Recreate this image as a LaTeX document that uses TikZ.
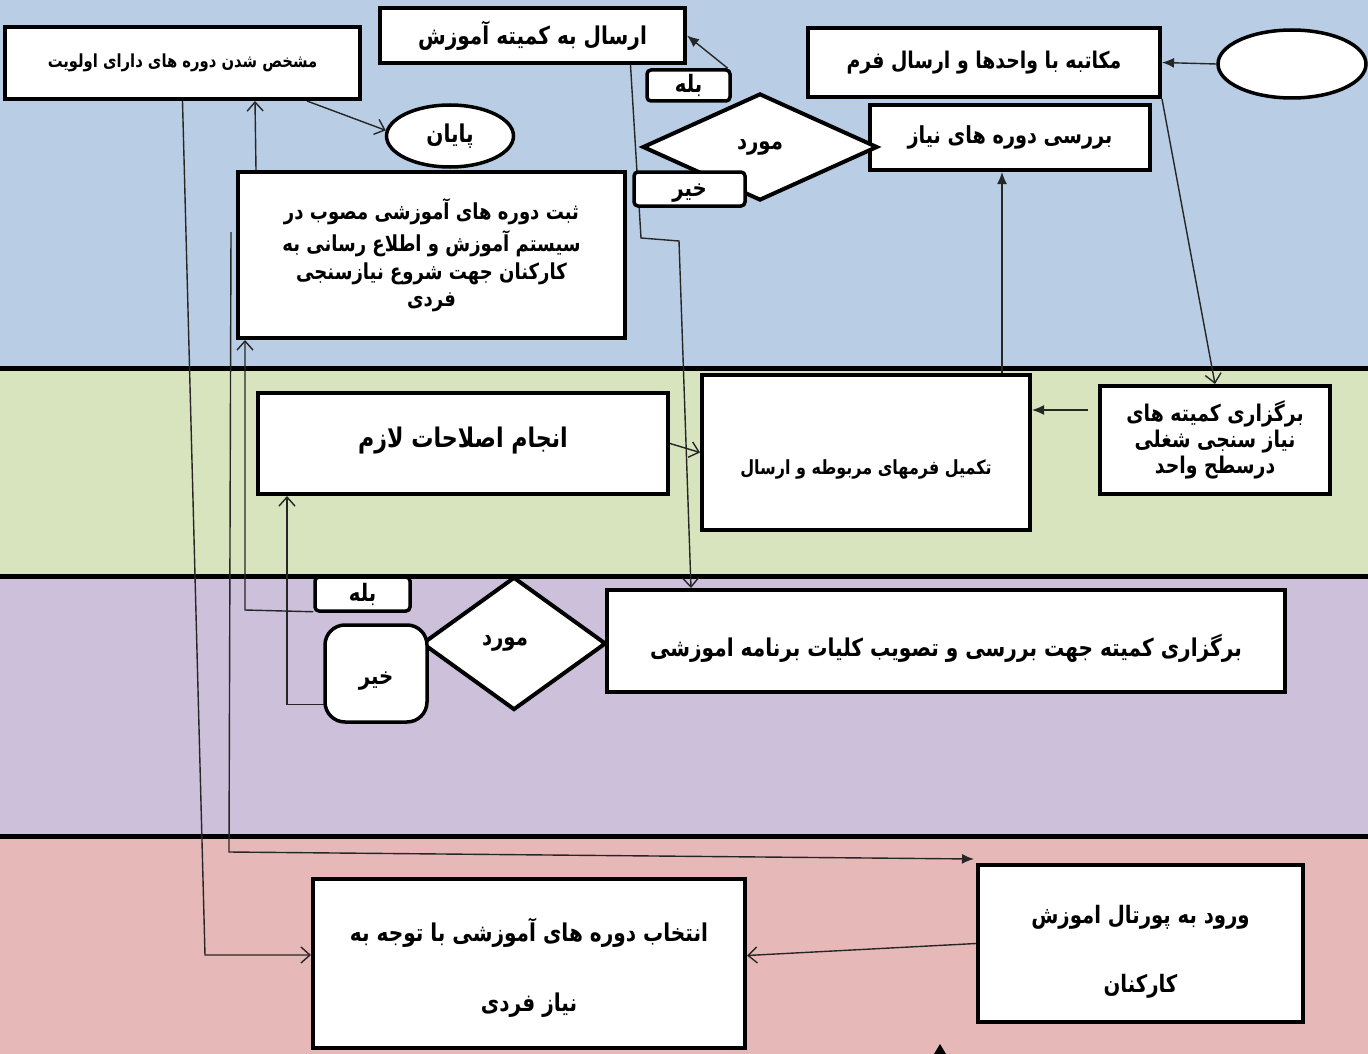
\documentclass[tikz,border=0pt]{standalone}
\usepackage{fontspec}
\setmainfont{DejaVu Sans}
\newfontfamily\arabicfont[Script=Arabic,FakeStretch=0.82]{DejaVu Sans Bold}
\TeXXeTstate=1
\usetikzlibrary{shapes.geometric,arrows.meta,calc}
\newcommand\fatext[1]{\beginR #1\endR}
\newcommand\fsz[1]{\fontsize{#1}{#1}\selectfont}
\newcommand\lowered[2]{\raisebox{#1}[0pt][0pt]{#2}}
\definecolor{laneblue}{HTML}{B9CDE5}
\definecolor{lanegreen}{HTML}{D7E4BD}
\definecolor{lanepurple}{HTML}{CCC0DA}
\definecolor{lanepink}{HTML}{E6B9B8}
\pgfdeclarelayer{lanes}
\pgfdeclarelayer{conns}
\pgfsetlayers{lanes,conns,main}
\begin{document}
\begin{tikzpicture}[x=1pt,y=-1pt,
  box/.style={draw, line width=4pt, fill=white, inner sep=0pt, align=center, font=\arabicfont},
  lbl/.style={draw, line width=3.5pt, fill=white, inner sep=0pt, rounded corners=4pt, font=\arabicfont\fsz{24}},
  decision/.style={draw, diamond, line width=4pt, fill=white, inner sep=0pt, font=\arabicfont\fsz{24}},
  oval/.style={draw, ellipse, line width=3.5pt, fill=white, inner sep=0pt, font=\arabicfont},
  conn/.style={line width=1.4pt, draw=black!85},
  oarrow/.style={conn, -{Straight Barb[length=9pt,width=16pt,line width=1.4pt]}},
  farrow/.style={conn, -{Latex[length=12pt,width=10pt]}},
  laneline/.style={line width=5pt}
]
\useasboundingbox (0,0) rectangle (1368,1054);
\begin{pgfonlayer}{lanes}
  \fill[laneblue] (0,0) rectangle (1368,368);
  \fill[lanegreen] (0,368) rectangle (1368,576);
  \fill[lanepurple] (0,576) rectangle (1368,836);
  \fill[lanepink] (0,836) rectangle (1368,1054);
  \draw[laneline] (0,368) -- (1368,368);
  \draw[laneline] (0,576) -- (1368,576);
  \draw[laneline] (0,836) -- (1368,836);
\end{pgfonlayer}

% top lane
\node[box, minimum width=355pt, minimum height=72pt, font=\arabicfont\fsz{18}] (mosh) at (182.5,63) {\fatext{مشخص شدن دوره های دارای اولویت}};
\node[box, minimum width=305pt, minimum height=55pt, font=\arabicfont\fsz{24.5}] (ersal) at (532.5,35.5) {\fatext{ارسال به کمیته آموزش}};
\node[box, minimum width=352pt, minimum height=69pt, font=\arabicfont\fsz{23}] (mokat) at (984,62.5) {\fatext{مکاتبه با واحدها و ارسال فرم}};
\node[oval, minimum width=148pt, minimum height=68pt] (start) at (1292,64) {};
\node[box, minimum width=280pt, minimum height=65pt, font=\arabicfont\fsz{23.5}] (barrasi) at (1010,137.5) {\fatext{بررسی دوره های نیاز}};
\node[decision, minimum width=235pt, minimum height=107pt] (dia1) at (760,147) {\fatext{مورد}};
\node[lbl, minimum width=83pt, minimum height=31pt] (bale1) at (688.5,85.5) {\fatext{بله}};
\node[lbl, minimum width=111pt, minimum height=34pt] (kheyr1) at (689.5,189) {\lowered{-8pt}{\fatext{خیر}}};
\node[oval, minimum width=127pt, minimum height=62pt, font=\arabicfont\fsz{24.5}] (payan) at (450,136) {\fatext{پایان}};
\node[box, minimum width=387pt, minimum height=166pt, font=\arabicfont\fsz{22}] (sabt) at (431.5,255) {\fatext{ثبت دوره های آموزشی مصوب در}\\[5pt]\fatext{سیستم آموزش و اطلاع رسانی به}\\[5pt]\fatext{کارکنان جهت شروع  نیازسنجی}\\[5pt]\fatext{فردی}};

% green lane
\node[box, minimum width=410pt, minimum height=101pt, font=\arabicfont\fsz{27}] (eslah) at (463,443.5) {\lowered{-4pt}{\fatext{انجام اصلاحات لازم}}};
\node[box, minimum width=328pt, minimum height=155pt, font=\arabicfont\fsz{19.5}] (takmil) at (866,452.5) {\lowered{-22pt}{\fatext{تکمیل فرمهای مربوطه  و ارسال}}};
\node[box, minimum width=230pt, minimum height=108pt, font=\arabicfont\fsz{23}] (barg1) at (1215,440) {\fatext{برگزاری کمیته های}\\[2pt]\fatext{نیاز سنجی شغلی}\\[2pt]\fatext{درسطح واحد}};

% purple lane
\node[decision, minimum width=184pt, minimum height=133pt] (dia2) at (514,643.5) {\lowered{-2pt}{\hspace*{-18pt}\fatext{مورد}}};
\node[lbl, minimum width=95pt, minimum height=34pt] (bale2) at (362.5,594) {\fatext{بله}};
\node[lbl, minimum width=102pt, minimum height=97pt, rounded corners=20pt] (kheyr2) at (376,673.5) {\lowered{-11pt}{\fatext{خیر}}};
\node[box, minimum width=678pt, minimum height=102pt, font=\arabicfont\fsz{24.5}] (barg2) at (946,641) {\lowered{-15pt}{\fatext{برگزاری  کمیته جهت بررسی و تصویب کلیات برنامه اموزشی}}};

% pink lane
\node[box, minimum width=432pt, minimum height=169pt, font=\arabicfont\fsz{24.5}] (entekhab) at (529,963.5) {\lowered{-11pt}{\begin{tabular}{c}\fatext{انتخاب دوره های آموزشی با توجه به}\\[44pt]\fatext{نیاز فردی}\end{tabular}}};
\node[box, minimum width=325pt, minimum height=157pt, font=\arabicfont\fsz{24}] (vorud) at (1140.5,943.5) {\lowered{-15pt}{\begin{tabular}{c}\fatext{ورود به پورتال اموزش}\\[44pt]\fatext{کارکنان}\end{tabular}}};

\begin{pgfonlayer}{conns}
  \draw[farrow] (start.west) -- (mokat.east);
  \draw[oarrow] (mokat.south east) -- (barg1.north);
  \coordinate (c1) at ($(barg1.west)+(-10,-30)$);
  \draw[farrow] (c1) -- (c1 -| takmil.east);
  \coordinate (bx) at ($(barrasi.south)+(-8,0)$);
  \draw[farrow] (takmil.north -| bx) -- (bx);
  \draw[farrow] ([xshift=-4pt]bale1.north east) -- (ersal.east);
  \coordinate (h1) at ($(ersal.south)+(98,0)$);
  \coordinate (h2) at (641,238);
  \coordinate (h3) at (679,241);
  \coordinate (h4) at ($(barg2.north west)+(86,0)$);
  \draw[oarrow] (h1) -- (h2) -- (h3) -- (h4);
  \draw[oarrow] (eslah.east) -- (takmil.west);
  \coordinate (j1) at (205,955);
  \draw[oarrow] (mosh.south) -- (j1) -- (j1 -| entekhab.west);
  \coordinate (k1) at ($(sabt.west)+(-5,-23)$);
  \coordinate (k2) at (229,852);
  \draw[farrow] (k1) -- (k2) -- ($(vorud.north west)+(-2,-4)$);
  \coordinate (l1) at (245,610);
  \coordinate (l2) at ($(sabt.south west)+(9,0)$);
  \draw[oarrow] ($(bale2.south west)+(0,-1)$) -- (l1) -- (l2);
  \coordinate (m1) at ($(kheyr2.west)+(8,31)$);
  \coordinate (m2) at ($(eslah.south west)+(31,0)$);
  \draw[oarrow] (m1) -- (m2 |- m1) -- (m2);
  \draw[oarrow] ($(sabt.north west)+(20,0)$) -- ($(mosh.south east)+(-107,0)$);
  \draw[oarrow] ($(mosh.south east)+(-55,0)$) -- (payan.175);
  \draw[oarrow] (vorud.west) -- ($(entekhab.east)+(0,-8)$);
\end{pgfonlayer}
\fill (934,1054) -- (940,1044) -- (946,1054) -- cycle;
\end{tikzpicture}
\end{document}
